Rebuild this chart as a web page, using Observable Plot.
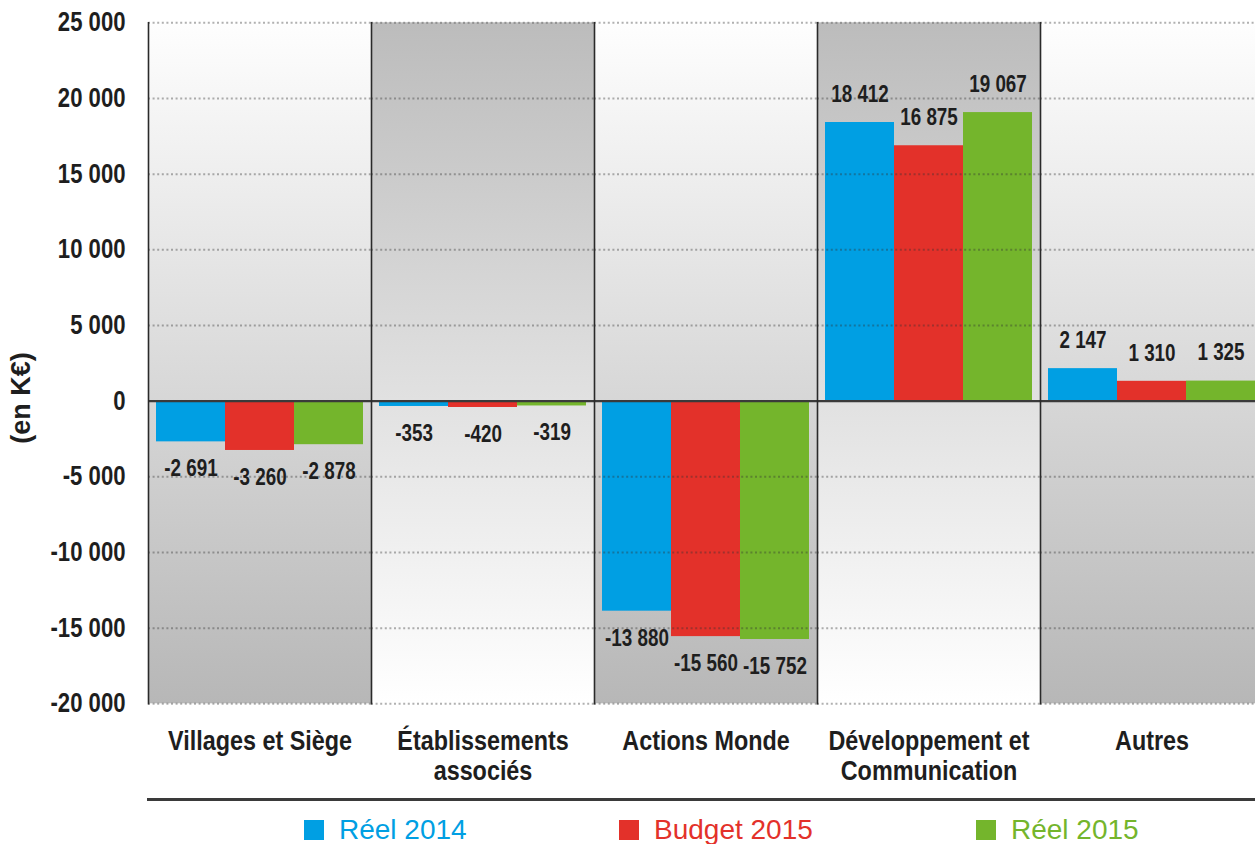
<!DOCTYPE html>
<html lang="fr">
<head>
<meta charset="utf-8">
<title>Résultat par activité (en K€)</title>
<script src="https://cdn.jsdelivr.net/npm/d3@7"></script>
<script src="https://cdn.jsdelivr.net/npm/@observablehq/plot@0.6"></script>
<style>
  html, body { margin: 0; padding: 0; background: #fff; overflow: hidden; }
  body { position: relative; width: 1255px; height: 844px; }
  #chart { width: 1255px; height: 790px; overflow: hidden; }
  #chart svg { display: block; max-width: none !important; }
  #ytitle {
    position: absolute; left: 21px; top: 398px;
    transform: translate(-50%, -50%) rotate(-90deg);
    font-family: "Liberation Sans", Arial, sans-serif; font-weight: bold; font-size: 27px;
    line-height: 1; color: #1e1e1e; white-space: nowrap;
  }
  #baseline {
    position: absolute; top: 798px; left: 147px; width: 1108px;
    border-top: 3px solid #3a3a3a;
  }
  .legend-item {
    position: absolute; top: 816px; height: 28px; line-height: 28px;
    font-family: "Liberation Sans", Arial, sans-serif; font-size: 28px; white-space: nowrap;
  }
  .legend-item .swatch {
    position: absolute; top: 4px; left: 0; width: 20px; height: 20px;
  }
  .legend-item .name { position: absolute; left: 35px; top: 0; }
</style>
</head>
<body>
<!-- vertical shading used behind the category panels -->
<svg width="0" height="0" style="position:absolute">
  <defs>
    <linearGradient id="shadeDown" x1="0" y1="0" x2="0" y2="1">
      <stop offset="0" stop-color="#fefefe"/>
      <stop offset="1" stop-color="#b7b7b7"/>
    </linearGradient>
    <linearGradient id="shadeUp" x1="0" y1="0" x2="0" y2="1">
      <stop offset="0" stop-color="#bcbcbc"/>
      <stop offset="1" stop-color="#ffffff"/>
    </linearGradient>
  </defs>
</svg>
<div id="chart"></div>
<div id="ytitle">(en K€)</div>
<div id="baseline"></div>
<div id="legend"></div>
<script>
// Activity categories (x facets) and their two-line display labels
const categories = [
  "Villages et Siège",
  "Établissements associés",
  "Actions Monde",
  "Développement et Communication",
  "Autres"
];
const categoryLabels = [
  "Villages et Siège",
  "Établissements\nassociés",
  "Actions Monde",
  "Développement et\nCommunication",
  "Autres"
];

// Series and values, in K€
const series = ["Réel 2014", "Budget 2015", "Réel 2015"];
const reel2014   = [-2691, -353, -13880, 18412, 2147];
const budget2015 = [-3260, -420, -15560, 16875, 1310];
const reel2015   = [-2878, -319, -15752, 19067, 1325];
const seriesColors = ["#009fe3", "#e3312a", "#74b52c"];

// Y axis ticks
const yTicks = [25000, 20000, 15000, 10000, 5000, 0, -5000, -10000, -15000, -20000];

// Long table for the grouped bars
const seriesValues = [reel2014, budget2015, reel2015];
const rows = [];
categories.forEach((c, i) => {
  series.forEach((s, j) => rows.push({category: c, series: s, value: seriesValues[j][i]}));
});

// Alternating panel backgrounds
const panels = categories.map((c, i) => ({category: c, odd: i % 2 === 1}));

// French number format: space as thousands separator, hyphen minus
const fr = d3.formatLocale({decimal: ",", thousands: " ", grouping: [3], currency: ["", " €"], minus: "-"});
const fmt = fr.format(",d");

const sans = "'Liberation Sans', Arial, sans-serif";
// horizontal squeeze giving the condensed look of the labels
const condense = 0.82;

const chart = Plot.plot({
  width: 1263,
  height: 790,
  marginLeft: 147,
  marginRight: 0,
  marginTop: 22.3,
  marginBottom: 86.7,
  style: {fontFamily: sans, color: "#1e1e1e", background: "transparent"},
  fx: {domain: categories, padding: 0},
  x: {domain: series, paddingInner: 0, paddingOuter: 0.1, axis: null},
  y: {domain: [-20000, 25000]},
  color: {domain: series, range: seriesColors},
  marks: [
    // panel shading
    Plot.barY(panels.filter(d => !d.odd), {fx: "category", y1: -20000, y2: 25000, fill: "url(#shadeDown)"}),
    Plot.barY(panels.filter(d => d.odd), {fx: "category", y1: -20000, y2: 25000, fill: "url(#shadeUp)"}),
    // bars
    Plot.barY(rows, {fx: "category", x: "series", y: "value", fill: "series"}),
    // dotted grid, drawn over the bars
    Plot.ruleY(yTicks.filter(d => d !== 0), {
      stroke: "#333", strokeOpacity: 0.38, strokeWidth: 2, strokeDasharray: "2 2.6"
    }),
    // zero line
    Plot.ruleY([0], {stroke: "#3a3a3a", strokeWidth: 2.2}),
    // panel separators
    Plot.frame({anchor: "left", stroke: "#2a2a2a", strokeWidth: 1.6}),
    // value labels
    Plot.text(rows.filter(d => d.value >= 0), {
      fx: "category", x: "series", y: "value", text: d => fmt(d.value),
      dy: -28, fontSize: 23, fontWeight: "bold", fill: "#1e1e1e"
    }),
    Plot.text(rows.filter(d => d.value < 0), {
      fx: "category", x: "series", y: "value", text: d => fmt(d.value),
      dy: 27, fontSize: 23, fontWeight: "bold", fill: "#1e1e1e"
    }),
    // y axis
    Plot.axisY({
      ticks: yTicks, tickFormat: fmt, tickSize: 0, tickPadding: 23,
      fontSize: 27, fontWeight: "bold", label: null
    }),
    // category labels
    Plot.axisFx({
      anchor: "bottom", tickSize: 0, tickPadding: 26, label: null,
      tickFormat: d => categoryLabels[categories.indexOf(d)],
      fontSize: 28.5, fontWeight: "bold", lineHeight: 1.02
    })
  ]
});
document.getElementById("chart").appendChild(chart);

// squeeze every label horizontally about its own anchor
d3.select(chart).selectAll("text").each(function() {
  const x = +this.getAttribute("x") || 0;
  const y = +this.getAttribute("y") || 0;
  const t = this.getAttribute("transform") || "";
  this.setAttribute("transform", `${t} translate(${x},${y}) scale(${condense},1) translate(${-x},${-y})`);
});

// legend
const legendLeft = [304, 619, 976];
const legend = document.getElementById("legend");
series.forEach((s, i) => {
  const item = document.createElement("div");
  item.className = "legend-item";
  item.style.left = legendLeft[i] + "px";
  item.style.color = seriesColors[i];
  item.innerHTML = `<span class="swatch" style="background:${seriesColors[i]}"></span><span class="name"></span>`;
  item.querySelector(".name").textContent = s;
  legend.appendChild(item);
});
</script>
</body>
</html>
